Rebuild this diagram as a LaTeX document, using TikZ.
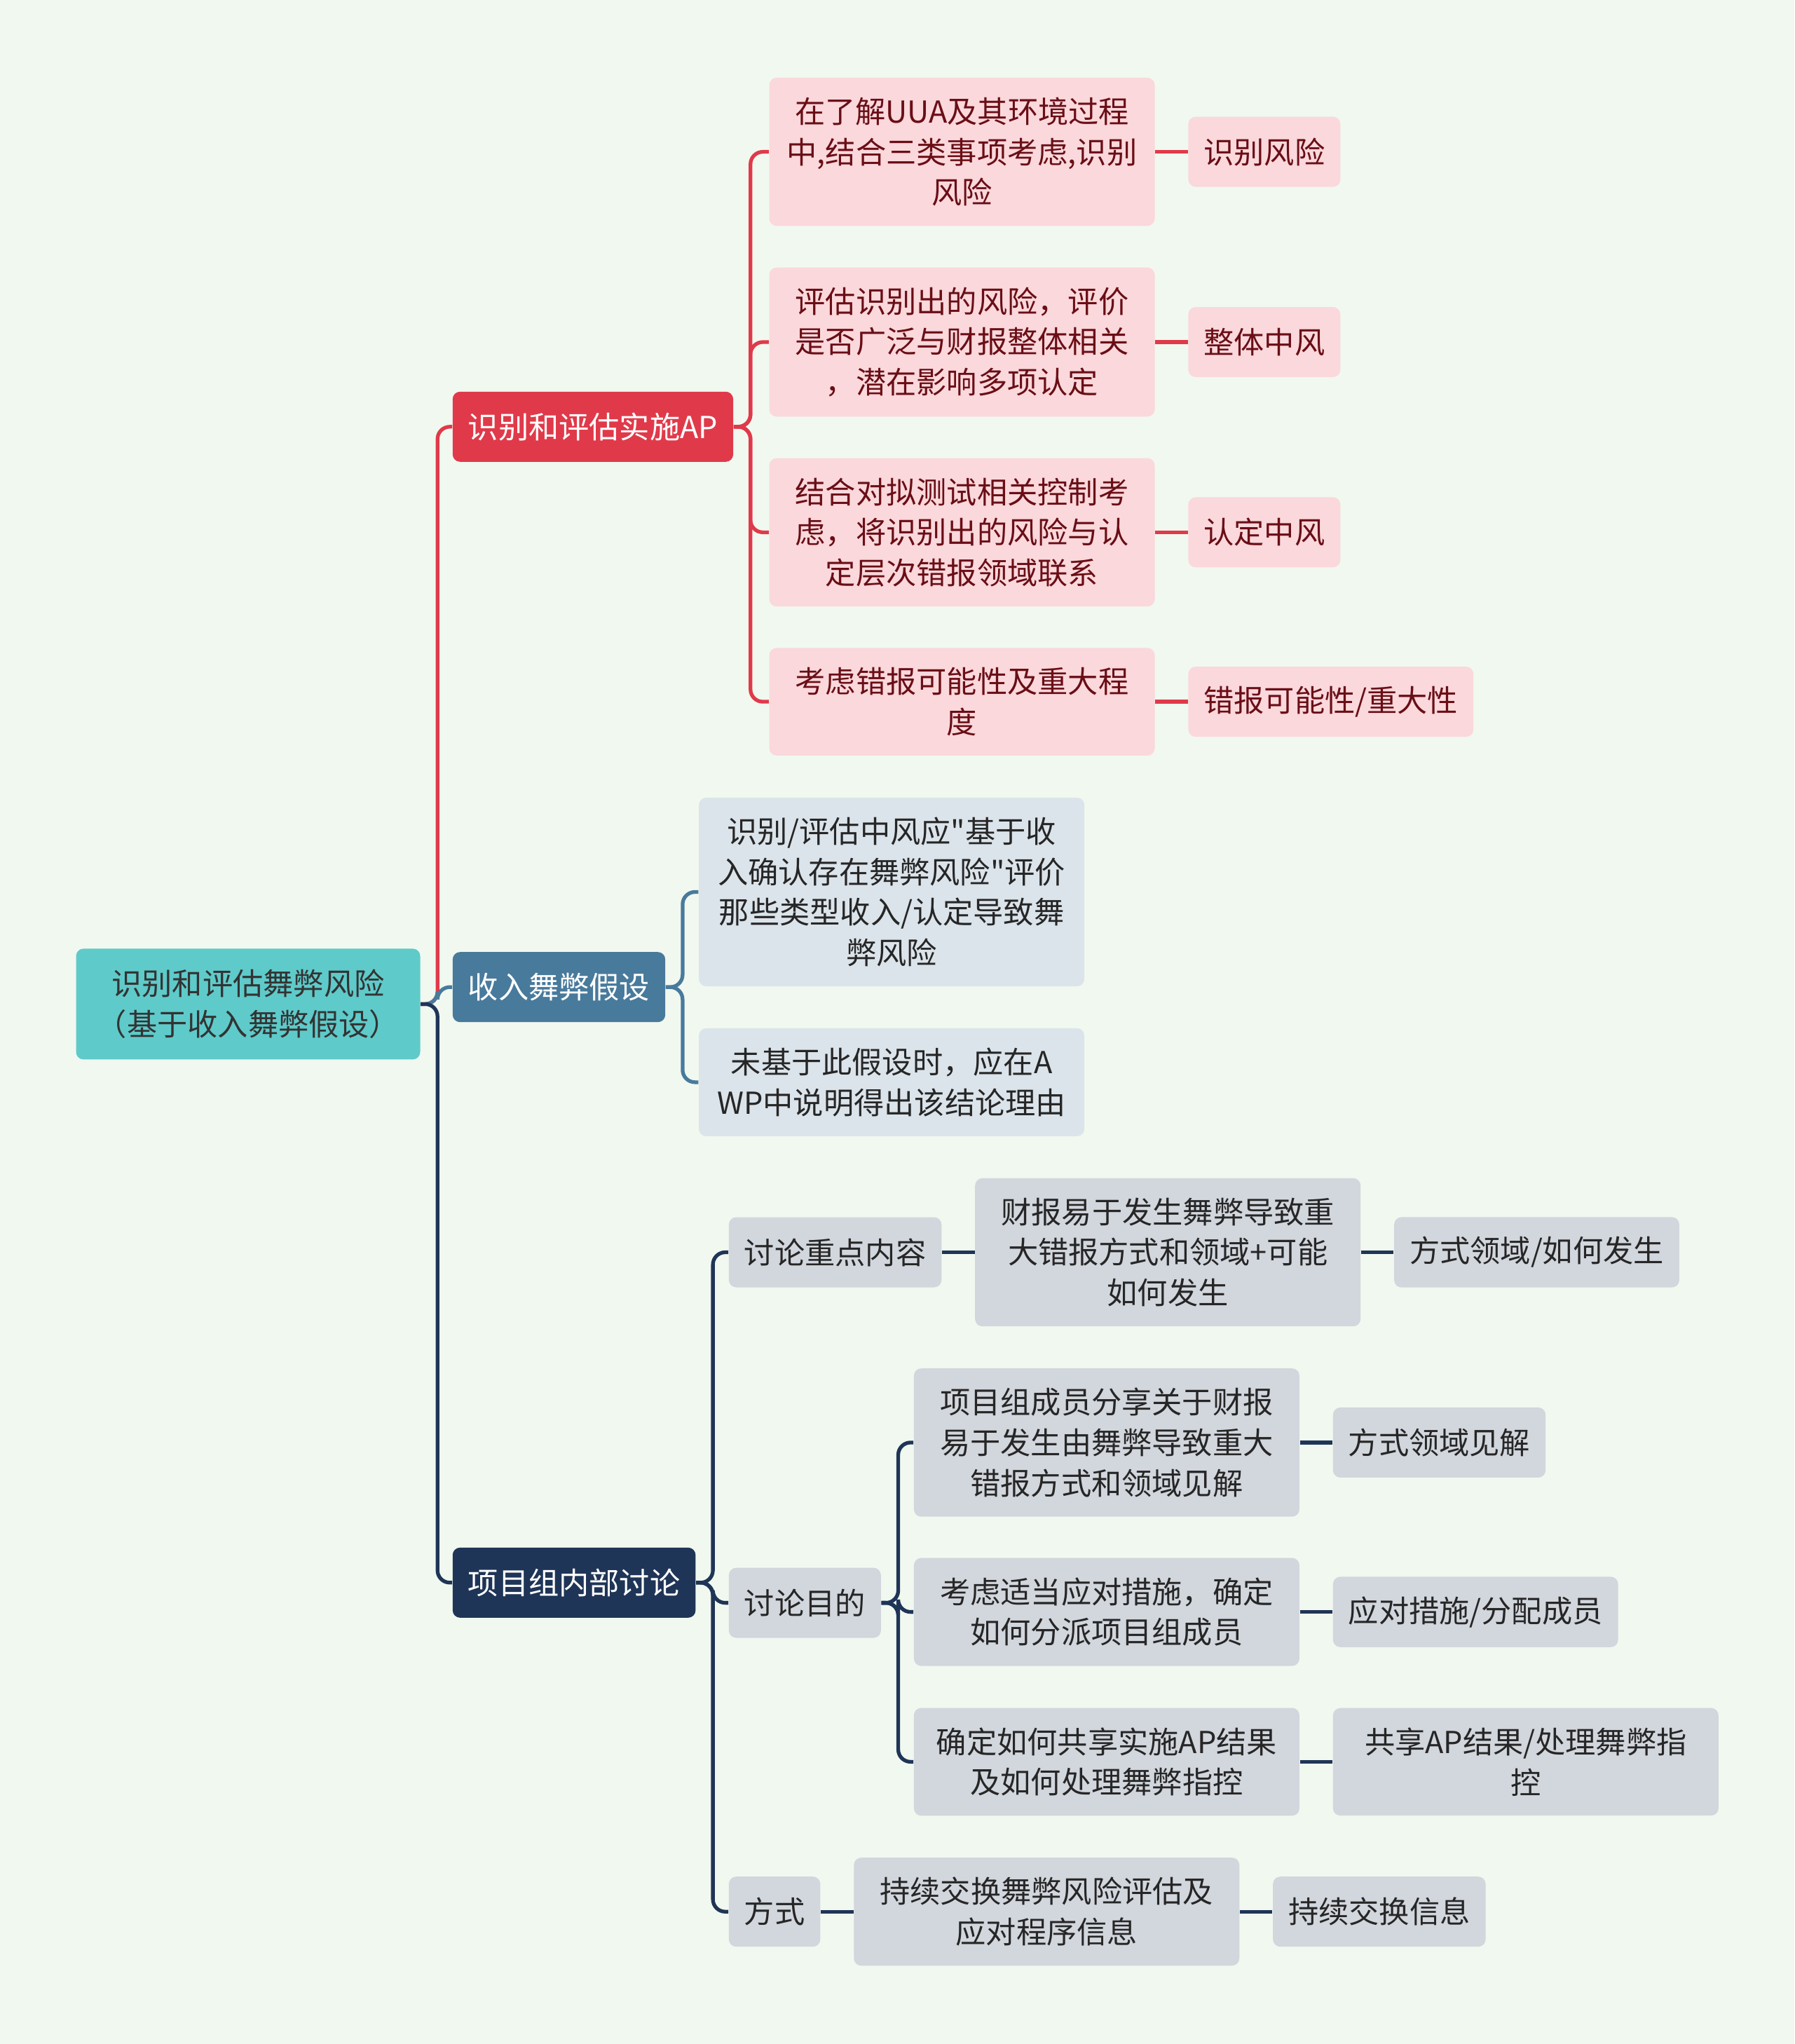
\documentclass[tikz,border=0pt]{standalone}
\usepackage{fontspec}
\setmainfont{Noto Sans CJK SC}[Ligatures=TeXOff]
\usepackage{tikz}
\usetikzlibrary{positioning}
\definecolor{mapBg}{HTML}{F1F8EF}
\definecolor{mapRoot}{HTML}{5FCACA}
\definecolor{mapRed}{HTML}{E03A4A}
\definecolor{mapPink}{HTML}{FAD8DC}
\definecolor{mapWine}{HTML}{6A0E16}
\definecolor{mapSteel}{HTML}{487A9C}
\definecolor{mapMist}{HTML}{DCE4EB}
\definecolor{mapNavy}{HTML}{1F3557}
\definecolor{mapGrey}{HTML}{D2D6DD}

\begin{document}
\begin{tikzpicture}[
    font=\fontsize{12.3pt}{16.4pt}\selectfont,
    box/.style={rounded corners=3pt, align=center, inner xsep=0.22cm,
                inner ysep=0.28cm, minimum height=1.0cm},
    rootbox/.style={box, fill=mapRoot, text=black!80, minimum width=4.91cm,
                minimum height=1.58cm, anchor=west},
    mainbox/.style={box, text=white, anchor=west},
    pinkbox/.style={box, fill=mapPink, text=mapWine},
    mistbox/.style={box, fill=mapMist, text=black!85},
    greybox/.style={box, fill=mapGrey, text=black!85},
    widebox/.style={minimum width=5.5cm},
    link/.style={line width=1.5pt, rounded corners=5pt},
    node distance=0.465cm,
]
\fill[mapBg] (0,0) rectangle (25.6,-29.16);
\useasboundingbox (0,0) rectangle (25.6,-29.16);

\node[rootbox] (root) at (1.078,-14.324) {识别和评估舞弊风险\\（基于收入舞弊假设）};

\node[mainbox, fill=mapRed]   (ap)   at (6.451,-6.088)  {识别和评估实施AP};
\node[mainbox, fill=mapSteel] (rev)  at (6.451,-14.082) {收入舞弊假设};
\node[mainbox, fill=mapNavy]  (team) at (6.451,-22.578) {项目组内部讨论};

\node[pinkbox, widebox, anchor=west] (a1) at (10.968,-2.166) {在了解UUA及其环境过程\\中,结合三类事项考虑,识别\\风险};
\node[pinkbox, widebox, anchor=west] (a2) at (10.968,-4.880) {评估识别出的风险，评价\\是否广泛与财报整体相关\\，潜在影响多项认定};
\node[pinkbox, widebox, anchor=west] (a3) at (10.968,-7.594) {结合对拟测试相关控制考\\虑，将识别出的风险与认\\定层次错报领域联系};
\node[pinkbox, widebox, anchor=west] (a4) at (10.968,-10.011) {考虑错报可能性及重大程\\度};
\node[pinkbox, right=of a1] (a1r) {识别风险};
\node[pinkbox, right=of a2] (a2r) {整体中风};
\node[pinkbox, right=of a3] (a3r) {认定中风};
\node[pinkbox, right=of a4] (a4r) {错报可能性/重大性};

\node[mistbox, widebox, anchor=west] (b1) at (9.964,-12.725) {识别/评估中风应"基于收\\入确认存在舞弊风险"评价\\那些类型收入/认定导致舞\\弊风险};
\node[mistbox, widebox, anchor=west] (b2) at (9.964,-15.439) {未基于此假设时，应在A\\WP中说明得出该结论理由};

\node[greybox, anchor=west] (c1) at (10.392,-17.865) {讨论重点内容};
\node[greybox, anchor=west] (c2) at (10.392,-22.866) {讨论目的};
\node[greybox, anchor=west] (c3) at (10.392,-27.272) {方式};

\node[greybox, widebox, right=of c1] (e1) {财报易于发生舞弊导致重\\大错报方式和领域+可能\\如何发生};
\node[greybox, right=of e1] (e1r) {方式领域/如何发生};

\node[greybox, widebox, anchor=west] (d1) at (13.032,-20.579) {项目组成员分享关于财报\\易于发生由舞弊导致重大\\错报方式和领域见解};
\node[greybox, widebox, anchor=west] (d2) at (13.032,-22.996) {考虑适当应对措施，确定\\如何分派项目组成员};
\node[greybox, widebox, anchor=west] (d3) at (13.032,-25.134) {确定如何共享实施AP结果\\及如何处理舞弊指控};
\node[greybox, right=of d1] (d1r) {方式领域见解};
\node[greybox, right=of d2] (d2r) {应对措施/分配成员};
\node[greybox, widebox, right=of d3] (d3r) {共享AP结果/处理舞弊指\\控};

\node[greybox, widebox, right=of c3] (f1) {持续交换舞弊风险评估及\\应对程序信息};
\node[greybox, right=of f1] (f1r) {持续交换信息};

\draw[link, mapRed] (root.east) -- ++(0.24,0) |- (ap.west);
\draw[link, mapSteel] (root.east) -- ++(0.24,0) |- (rev.west);
\draw[link, mapNavy] (root.east) -- ++(0.24,0) |- (team.west);

\foreach \k in {a1,a2,a3,a4}
    \draw[link, mapRed] (ap.east) -- ++(0.24,0) |- (\k.west);
\foreach \k in {a1,a2,a3,a4}
    \draw[link, mapRed] (\k) -- (\k r);

\foreach \k in {b1,b2}
    \draw[link, mapSteel] (rev.east) -- ++(0.24,0) |- (\k.west);

\foreach \k in {c1,c2,c3}
    \draw[link, mapNavy] (team.east) -- ++(0.24,0) |- (\k.west);
\foreach \k in {d1,d2,d3}
    \draw[link, mapNavy] (c2.east) -- ++(0.24,0) |- (\k.west);
\foreach \k in {d1,d2,d3,e1,f1}
    \draw[link, mapNavy] (\k) -- (\k r);
\draw[link, mapNavy] (c1) -- (e1);
\draw[link, mapNavy] (c3) -- (f1);
\end{tikzpicture}
\end{document}
